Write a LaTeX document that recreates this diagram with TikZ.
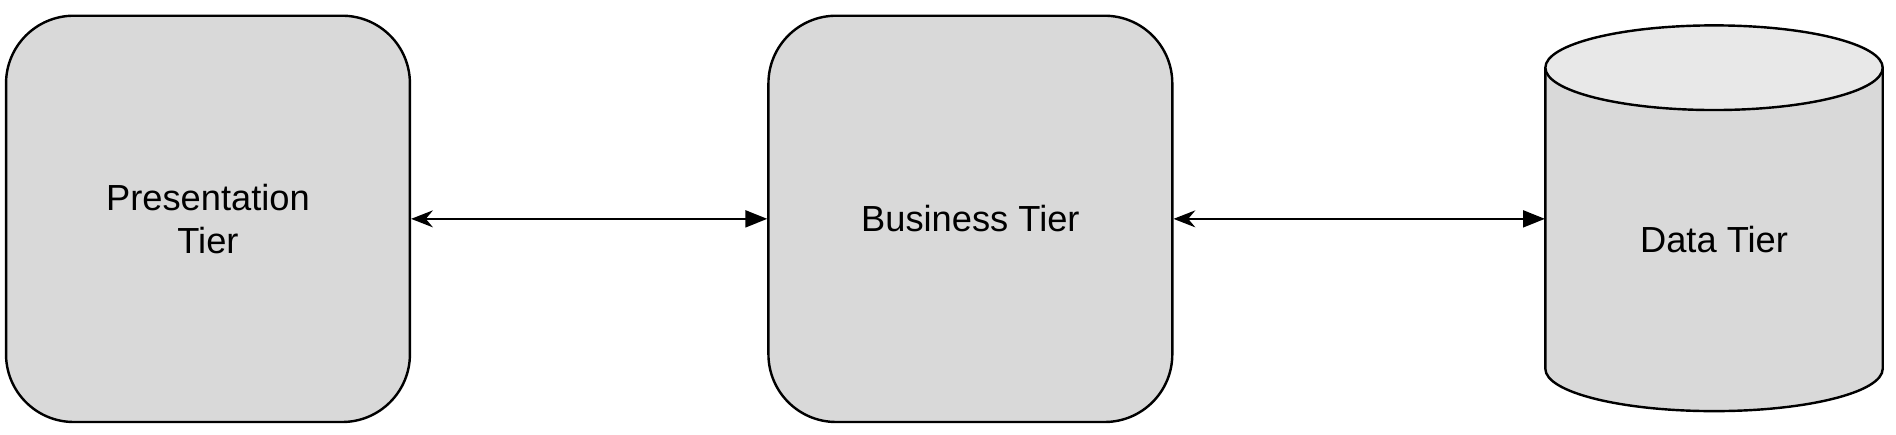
\documentclass[tikz,border=0pt]{standalone}
\usepackage{fontspec}
\setmainfont{Liberation Sans}
\usetikzlibrary{arrows.meta, positioning}
\definecolor{tierFill}{HTML}{D9D9D9}
\definecolor{tierTop}{HTML}{E8E8E8}

\begin{document}
\begin{tikzpicture}[x=0.5pt, y=0.5pt,
    tier/.style={rectangle, draw=black, fill=tierFill, line width=1pt, rounded corners=28pt,
        minimum width=167pt, minimum height=168pt, align=center, font=\fontsize{15}{18}\selectfont},
    link/.style={line width=0.8pt, {Stealth[length=9pt,width=7pt]}-{Triangle[length=9pt,width=7pt]}}
]
    \useasboundingbox (0,0) rectangle (1568,359);
    \node[tier] (pres) at (172,178) {Presentation\\Tier};
    \node[tier] (bus) at (802.5,178) {Business Tier};
    % cylinder drawn by hand
    \draw[line width=1pt, fill=tierFill] (1278,303) -- (1278,54)
        arc[start angle=180, end angle=360, x radius=139.5, y radius=35] -- (1557,303);
    \draw[line width=1pt, fill=tierTop] (1417.5,303) ellipse[x radius=139.5, y radius=35];
    \node[minimum width=139.5pt, minimum height=142pt, inner sep=0pt, font=\fontsize{15}{18}\selectfont] (data) at (1417.5,161) {Data Tier};

    \draw[link] (pres.east) -- (bus.west);
    \draw[link] (bus.east) -- (bus.east -| data.west);
\end{tikzpicture}
\end{document}
